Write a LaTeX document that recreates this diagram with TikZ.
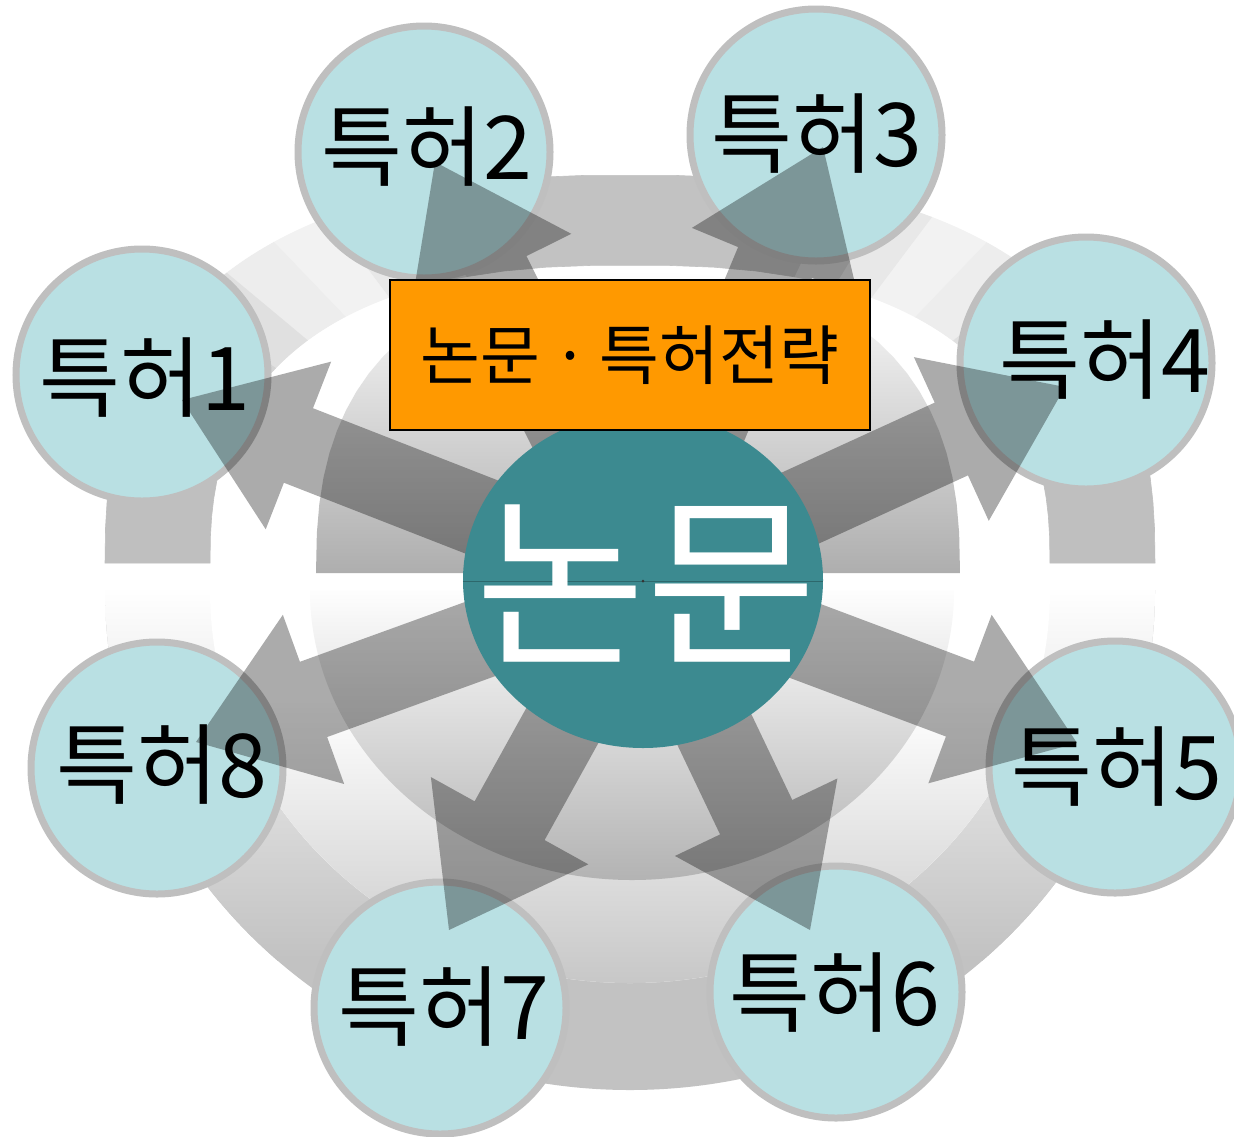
\documentclass[tikz,border=0pt]{standalone}
\usepackage{fontspec}
\setmainfont{Noto Sans CJK KR}
\usetikzlibrary{calc,shapes.geometric}
\definecolor{cyanfill}{HTML}{B9E0E3}
\definecolor{rimgray}{HTML}{BFBFBF}
\definecolor{tealc}{HTML}{3C8A90}
\definecolor{orangec}{HTML}{FF9900}
\tikzset{
  patent/.style={circle, minimum size=252pt, inner sep=0pt, fill=cyanfill, draw=rimgray, line width=7pt},
  plabel/.style={inner sep=0pt, font=\fontsize{88}{96}\selectfont},
  blockarr/.style={fill=black, fill opacity=0.33, draw=none},
  declare function={sxx(\t)=cos(\t)*(abs(cos(\t))+0.00001)^(-0.2); syy(\t)=sin(\t)*(abs(sin(\t))+0.00001)^(-0.2);}
}
\begin{document}
\begin{tikzpicture}[x=1pt,y=1pt]
\useasboundingbox (0,0) rectangle (1234,-1136);
\fill[white] (0,0) rectangle (1234,-1136);

% ---------- lower background ----------
\begin{scope}
  \clip (105,-590) arc[start angle=180, end angle=360, x radius=525, y radius=500] -- cycle;
  \fill[black!24] (100,-590) rectangle (1160,-1095);
  \shade[top color=white, bottom color=black!24] (100,-585) rectangle (1160,-960);
\end{scope}
\begin{scope}
  \clip (210,-590) arc[start angle=180, end angle=360, x radius=420, y radius=393] -- cycle;
  \fill[white] (200,-585) rectangle (1060,-990);
  \shade[top color=white, bottom color=black!22] (200,-700) rectangle (1060,-985);
\end{scope}
\begin{scope}
  \clip (310,-590) arc[start angle=180, end angle=360, x radius=322, y radius=290] -- cycle;
  \shade[top color=white, bottom color=black!30] (300,-585) rectangle (960,-882);
\end{scope}

% ---------- upper background ----------
\foreach \a/\b/\p in {0/20/25, 20/28/22, 28/36/17, 36/44/12, 44/52/7, 52/60/5, 60/66/9, 66/72/16, 72/108/24, 108/114/16, 114/120/9, 120/128/5, 128/136/7, 136/144/12, 144/152/17, 152/160/22, 160/180/25}{
  \fill[black!\p, draw=black!\p, line width=0.6pt]
    plot[domain=\a:\b, samples=8] ({630+525*sxx(\x)}, {-563+388*syy(\x)})
    -- plot[domain=\b:\a, samples=8] ({630+420*sxx(\x)}, {-563+298*syy(\x)}) -- cycle;
}
\begin{scope}
  \clip plot[domain=0:180, samples=40] ({638+322*sxx(\x)}, {-573+300*syy(\x)}) -- cycle;
  \shade[top color=white, bottom color=black!32] (300,-270) rectangle (970,-575);
\end{scope}

% ---------- patent circles ----------
\node[patent] (p1) at (142,-375) {};
\node[patent] (p2) at (424,-152) {};
\node[patent] (p3) at (816,-135) {};
\node[patent] (p4) at (1086,-363) {};
\node[patent] (p5) at (1115,-767) {};
\node[patent] (p6) at (836,-992) {};
\node[patent] (p7) at (440,-1008) {};
\node[patent] (p8) at (157,-768) {};

% ---------- centre and arrows ----------
\coordinate (c0) at (643,-580);
\coordinate (t1) at (182,-400);
\coordinate (t2) at (435,-162);
\coordinate (t3) at (823,-147);
\coordinate (t4) at (1065,-387);
\coordinate (t5) at (1077,-743);
\coordinate (t6) at (810,-930);
\coordinate (t7) at (449,-930);
\coordinate (t8) at (196,-742);
\foreach \t in {t1,t2,t3,t4,t5,t6,t7,t8}{
  \coordinate (hb) at ($(\t)!125pt!(c0)$);
  \fill[blockarr] ($(c0)!40pt!90:(\t)$) -- ($(hb)!40pt!90:(\t)$) -- ($(hb)!90pt!90:(\t)$) -- (\t)
    -- ($(hb)!90pt!-90:(\t)$) -- ($(hb)!40pt!-90:(\t)$) -- ($(c0)!40pt!-90:(\t)$) -- cycle;
}

\node[ellipse, minimum width=360pt, minimum height=336pt, inner sep=0pt, fill=tealc] (c) at (c0) {};
\draw[tealc!75!black, line width=0.8pt] (c.west |- 0,-581) -- (c.east |- 0,-581);
\fill[black!80] (643,-581) circle (1.5pt);
\node[inner sep=0pt, text=white, font=\fontsize{185}{190}\selectfont] (ct) at (646,-583) {논문};

\node[draw=black, line width=2pt, fill=orangec, minimum width=480pt, minimum height=150pt, inner sep=0pt,
      font=\fontsize{65}{70}\selectfont] (box) at (630,-355) {논문\kern12pt·\kern11pt특허전략};

% ---------- labels ----------
\node[plabel] (l1) at (145,-378) {특허1};
\node[plabel] (l2) at (427,-147) {특허2};
\node[plabel] (l3) at (817,-134) {특허3};
\node[plabel] (l4) at (1105,-360) {특허4};
\node[plabel] (l5) at (1117,-767) {특허5};
\node[plabel] (l6) at (835,-993) {특허6};
\node[plabel] (l7) at (444,-1007) {특허7};
\node[plabel] (l8) at (162,-765) {특허8};
\end{tikzpicture}
\end{document}
